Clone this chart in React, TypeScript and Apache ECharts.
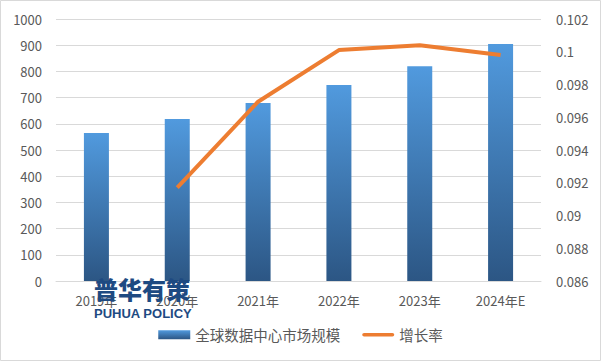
import React, { useEffect, useRef } from "react";
import * as echarts from "echarts";

const categories = ["2019年", "2020年", "2021年", "2022年", "2023年", "2024年E"];
const marketSize = [565, 618, 679, 748, 820, 905];
const growthRate: (number | null)[] = [null, 0.0917, 0.09695, 0.1001, 0.1004, 0.0998];
const leftTicks = { min: 0, max: 1000, interval: 100 };
const rightTicks = { min: 0.086, max: 0.102, interval: 0.002 };

export default function App() {
  const ref = useRef<HTMLDivElement>(null);
  useEffect(() => {
    if (!ref.current) return;
    const chart = echarts.init(ref.current, null, { renderer: "svg" });
    const font = "'Microsoft YaHei','Noto Sans CJK SC','Noto Sans',sans-serif";
    chart.setOption({
      animation: false,
      backgroundColor: "#ffffff",
      textStyle: { fontFamily: font },
      grid: { left: 56, right: 60, top: 19, bottom: 80, containLabel: false },
      legend: {
        bottom: 14,
        left: "center",
        itemWidth: 32,
        itemHeight: 9,
        itemGap: 22,
        textStyle: { color: "#595959", fontSize: 14.5, fontFamily: font },
        data: [
          { name: "全球数据中心市场规模", icon: "rect" },
          {
            name: "增长率",
            icon: "path://M2,0 L33,0 A2,2 0 0 1 33,4 L2,4 A2,2 0 0 1 2,0 Z",
          },
        ],
      },
      xAxis: {
        type: "category",
        data: categories,
        axisLine: { show: true, lineStyle: { color: "#d9d9d9" } },
        axisTick: { show: false },
        axisLabel: { color: "#595959", fontSize: 13, margin: 13 },
      },
      yAxis: [
        {
          type: "value",
          ...leftTicks,
          axisLine: { show: false },
          axisTick: { show: false },
          splitLine: { lineStyle: { color: "#d9d9d9" } },
          axisLabel: {
            color: "#595959",
            fontSize: 13,
            margin: 14,
            formatter: (v: number) => String(v),
          },
        },
        {
          type: "value",
          ...rightTicks,
          position: "right",
          axisLine: { show: false },
          axisTick: { show: false },
          splitLine: { show: false },
          axisLabel: {
            color: "#595959",
            fontSize: 13,
            margin: 15,
            formatter: (v: number) => String(parseFloat(v.toFixed(3))),
          },
        },
      ],
      series: [
        {
          name: "全球数据中心市场规模",
          type: "bar",
          data: marketSize,
          barWidth: 25,
          itemStyle: {
            color: new echarts.graphic.LinearGradient(0, 0, 0, 1, [
              { offset: 0, color: "#519ade" },
              { offset: 1, color: "#2c5684" },
            ]),
          },
        },
        {
          name: "增长率",
          type: "line",
          yAxisIndex: 1,
          data: growthRate,
          symbol: "none",
          connectNulls: false,
          lineStyle: { color: "#ed7d31", width: 4 },
          itemStyle: { color: "#ed7d31" },
        },
      ],
      graphic: [
        {
          type: "rect",
          shape: { x: 0.5, y: 0.5, width: 600, height: 360 },
          style: { fill: "none", stroke: "#d9d9d9", lineWidth: 1 },
          silent: true,
        },
        {
          type: "text",
          left: 94,
          top: 276,
          z: 100,
          style: {
            text: "普华有策",
            fill: "#1e4a82",
            font: "900 24px 'Noto Sans CJK SC'",
          },
        },
        {
          type: "text",
          left: 94,
          top: 307,
          z: 100,
          style: {
            text: "PUHUA POLICY",
            fill: "#1e4a82",
            font: "bold 13px 'Liberation Sans','Noto Sans',sans-serif",
          },
        },
      ],
    });
    return () => chart.dispose();
  }, []);
  return (
    <div
      ref={ref}
      style={{ position: "fixed", left: 0, top: 0, width: 601, height: 361 }}
    />
  );
}
